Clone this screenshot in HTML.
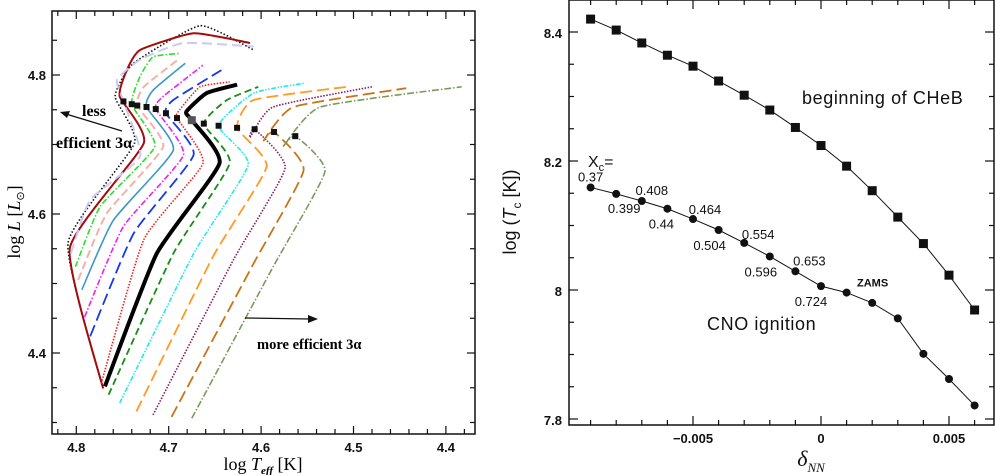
<!DOCTYPE html>
<html><head><meta charset="utf-8">
<style>
html,body{margin:0;padding:0;background:#fff;}
svg{display:block;}
.tl{font-family:"Liberation Sans",sans-serif;font-weight:bold;font-size:13px;fill:#111;}
.sv{font-family:"Liberation Serif",serif;}
</style></head>
<body>
<svg id="fig" width="995" height="475" viewBox="0 0 995 475" xmlns="http://www.w3.org/2000/svg">
  <g id="left"></g>
  <g id="right"></g>
</svg>
<script>
// ---------- LEFT PANEL DATA ----------
const trackNames = ["t1","t2","t3","t4","t5","t6","t7","t8","t9","t10","t11","t12","t13","t14","t15","t16"];
const trackLogT = [
 [4.771,4.809,4.737,4.758,4.738,4.666,4.608],
 [4.771,4.807,4.727,4.753,4.746,4.731,4.673,4.612],
 [4.806,4.785,4.731,4.749,4.756,4.731,4.684,4.608],
 [4.801,4.774,4.715,4.740,4.731,4.717,4.688],
 [4.798,4.767,4.706,4.734,4.727,4.690],
 [4.794,4.760,4.695,4.724,4.717,4.682],
 [4.791,4.749,4.684,4.714,4.706,4.663],
 [4.785,4.738,4.673,4.703,4.695,4.643],
 [4.773,4.727,4.663,4.691,4.688,4.666,4.634],
 [4.769,4.713,4.645,4.675,4.681,4.659,4.626],
 [4.765,4.695,4.634,4.662,4.637,4.603],
 [4.753,4.673,4.614,4.646,4.608,4.554],
 [4.735,4.652,4.594,4.626,4.608,4.507],
 [4.717,4.630,4.574,4.607,4.612,4.587,4.480],
 [4.697,4.608,4.554,4.586,4.597,4.565,4.443],
 [4.675,4.587,4.531,4.563,4.576,4.536,4.383]
];
const trackLogL = [
 [4.349,4.558,4.702,4.769,4.817,4.871,4.836],
 [4.349,4.551,4.702,4.769,4.805,4.836,4.860,4.846],
 [4.543,4.620,4.683,4.762,4.793,4.822,4.846,4.841],
 [4.524,4.611,4.697,4.758,4.798,4.826,4.831],
 [4.505,4.601,4.697,4.756,4.783,4.822],
 [4.491,4.591,4.692,4.754,4.778,4.817],
 [4.452,4.582,4.685,4.751,4.769,4.814],
 [4.424,4.572,4.685,4.745,4.764,4.807],
 [4.356,4.563,4.673,4.738,4.750,4.783,4.790],
 [4.352,4.543,4.673,4.735,4.747,4.774,4.786],
 [4.340,4.543,4.673,4.730,4.764,4.783],
 [4.328,4.543,4.671,4.727,4.774,4.788],
 [4.316,4.539,4.668,4.724,4.764,4.783],
 [4.311,4.534,4.666,4.722,4.710,4.754,4.783],
 [4.308,4.529,4.663,4.718,4.706,4.754,4.781],
 [4.306,4.524,4.661,4.712,4.697,4.754,4.783]
];
const trackSquareIdx = [-1,-1,3,3,3,3,3,3,3,3,3,3,3,3,3,3];
const trackColors = ["#111","#a40a0a","#c9c9f2","#2be02b","#f3b1a9","#3a98c8","#ee22ee","#1438ee","#ee2020","#000","#148f14","#22e8ee","#ff9a22","#841a62","#c8741a","#7a9a5a"];
const trackWidths = [1.6,2,2,1.6,2,1.6,1.6,1.8,1.6,4,1.8,1.6,1.8,1.6,1.8,1.6];
const trackDash = ["1.5 2","","10 5","6 2 1.5 2","8 4","","6 2 1.5 2","12 5","1.5 1.5","","7 4","5 1.5 1.5 1.5 1.5 1.5","12 5","1.5 1.5","12 5","7 2 1.5 2"];
const lxTicks = [4.8,4.7,4.6,4.5,4.4];
const lyTicks = [4.4,4.6,4.8];

// ---------- RIGHT PANEL DATA ----------
const delta = [-0.009,-0.008,-0.007,-0.006,-0.005,-0.004,-0.003,-0.002,-0.001,0,0.001,0.002,0.003,0.004,0.005,0.006];
const cheb = [8.420,8.403,8.383,8.364,8.347,8.324,8.302,8.279,8.252,8.224,8.192,8.154,8.113,8.072,8.023,7.969];
const cno = [8.159,8.149,8.138,8.126,8.110,8.093,8.073,8.052,8.029,8.006,7.996,7.980,7.956,7.901,7.862,7.821];
const xcLabels = ["0.37","0.399","0.408","0.44","0.464","0.504","0.554","0.596","0.653","0.724","ZAMS"];
const xcLabelIdx = [0,1,2,3,4,5,6,7,8,9,10];
const rxTicks = [-0.005,0,0.005];
const rxTickLabels = ["\u22120.005","0","0.005"];
const ryTicks = [7.8,8,8.2,8.4];
const ryTickLabels = ["7.8","8","8.2","8.4"];

const NS="http://www.w3.org/2000/svg";
function mk(tag,attrs,parent,text){const e=document.createElementNS(NS,tag);for(const k in attrs)e.setAttribute(k,attrs[k]);if(text!==undefined)e.textContent=text;parent.appendChild(e);return e;}

// ---------- LEFT PANEL ----------
const L=document.getElementById('left');
const LX0=52,LX1=475,LY0=11,LY1=434;
const lx=t=>76.3+(4.8-t)*924;
const ly=v=>75+(4.8-v)*695;
function crPath(pts){
  const k=12;
  let d="M"+pts[0][0].toFixed(1)+","+pts[0][1].toFixed(1);
  for(let i=0;i<pts.length-1;i++){
    const p0=pts[Math.max(0,i-1)],p1=pts[i],p2=pts[i+1],p3=pts[Math.min(pts.length-1,i+2)];
    const c1=[p1[0]+(p2[0]-p0[0])/k,p1[1]+(p2[1]-p0[1])/k];
    const c2=[p2[0]-(p3[0]-p1[0])/k,p2[1]-(p3[1]-p1[1])/k];
    d+=` C${c1[0].toFixed(1)},${c1[1].toFixed(1)} ${c2[0].toFixed(1)},${c2[1].toFixed(1)} ${p2[0].toFixed(1)},${p2[1].toFixed(1)}`;
  }
  return d;
}
const lclip=mk('clipPath',{id:'lclip'},L);mk('rect',{x:LX0,y:LY0,width:LX1-LX0,height:LY1-LY0},lclip);
const tg=mk('g',{'clip-path':'url(#lclip)'},L);


for(let i=0;i<trackNames.length;i++){
  const pts=trackLogT[i].map((t,j)=>[lx(t),ly(trackLogL[i][j])]);
  const p=mk('path',{d:crPath(pts),fill:'none',stroke:trackColors[i],'stroke-width':trackWidths[i],'stroke-dasharray':trackDash[i],'stroke-linejoin':'round'},tg);
  
  
}
for(let i=0;i<trackNames.length;i++){
  const k=trackSquareIdx[i]; if(k<0)continue;
  const s=i===9?8:6;
  const r=mk('rect',{x:lx(trackLogT[i][k])-s/2,y:ly(trackLogL[i][k])-s/2,width:s,height:s,fill:i===9?'#555':'#111'},tg);
  
  
}
const lf=mk('rect',{x:LX0,y:LY0,width:LX1-LX0,height:LY1-LY0,fill:'none',stroke:'#111','stroke-width':1.5},L);

for(let t=4.82;t>=4.36;t-=0.02){const x=lx(+t.toFixed(2));if(x<LX0||x>LX1)continue;const maj=Math.abs(t*10-Math.round(t*10))<1e-6;const len=maj?8:5;
  mk('line',{x1:x,y1:LY1,x2:x,y2:LY1-len,stroke:'#111','stroke-width':1.2},L);mk('line',{x1:x,y1:LY0,x2:x,y2:LY0+len,stroke:'#111','stroke-width':1.2},L);}
for(let v=4.3;v<=4.9;v+=0.05){const y=ly(+v.toFixed(2));if(y<LY0||y>LY1)continue;const maj=Math.abs(v*5-Math.round(v*5))<1e-6;const len=maj?8:5;
  mk('line',{x1:LX0,y1:y,x2:LX0+len,y2:y,stroke:'#111','stroke-width':1.2},L);mk('line',{x1:LX1,y1:y,x2:LX1-len,y2:y,stroke:'#111','stroke-width':1.2},L);}
lxTicks.forEach(t=>{const e=mk('text',{x:lx(t),y:452,'text-anchor':'middle',class:'tl'},L,t.toFixed(1));});
lyTicks.forEach(v=>{const e=mk('text',{x:46,y:ly(v)+5,'text-anchor':'end',class:'tl'},L,v.toFixed(1));});
</script>
<script>
(function(){
const L=document.getElementById('left');
L.insertAdjacentHTML('beforeend',`
<text x="263" y="470" text-anchor="middle" class="sv" font-size="18">log <tspan font-style="italic">T</tspan><tspan font-size="11" font-style="italic" font-weight="bold" dy="4">eff</tspan><tspan dy="-4"> [K]</tspan></text>
<text transform="translate(20,222) rotate(-90)" text-anchor="middle" class="sv" font-size="18">log <tspan font-style="italic">L</tspan> [<tspan font-style="italic">L</tspan><tspan font-size="11" dy="4">⊙</tspan><tspan dy="-4">]</tspan></text>
<text x="82" y="116" class="sv" font-size="16" font-weight="bold">less</text>
<text x="56" y="148" class="sv" font-size="16" font-weight="bold">efficient 3α</text>
<g><line x1="122" y1="131" x2="66" y2="114" stroke="#111" stroke-width="1.3"/><polygon points="60,112 70,111 67,118" fill="#111"/></g>
<g><line x1="245" y1="318" x2="310" y2="319" stroke="#111" stroke-width="1.3"/><polygon points="318,319 308,315 308,323" fill="#111"/></g>
<text x="257" y="349" class="sv" font-size="14.5" font-weight="bold">more efficient 3α</text>
`);
})();
</script>
<script>
(function(){
const R=document.getElementById('right');
const RX0=569,RX1=994,RY0=0,RY1=425;
const rx=d=>821+d*25600;
const ry=v=>290-(v-8)*645;
function mk(tag,attrs,parent,text){const e=document.createElementNS("http://www.w3.org/2000/svg",tag);for(const k in attrs)e.setAttribute(k,attrs[k]);if(text!==undefined)e.textContent=text;parent.appendChild(e);return e;}
const f=mk('rect',{x:RX0,y:RY0,width:RX1-RX0,height:RY1-RY0,fill:'none',stroke:'#111','stroke-width':1.5},R);

for(let i=-10;i<=7;i++){const d=i*0.001;const x=rx(d);if(x<=RX0||x>=RX1)continue;const len=(i%5===0)?9:5;
  mk('line',{x1:x,y1:RY1,x2:x,y2:RY1-len,stroke:'#111','stroke-width':1.2},R);mk('line',{x1:x,y1:RY0,x2:x,y2:RY0+len,stroke:'#111','stroke-width':1.2},R);}
for(let i=0;i<14;i++){const v=7.8+i*0.05;const y=ry(v);if(y<=RY0||y>=RY1)continue;const len=(i%4===0)?9:5;
  mk('line',{x1:RX0,y1:y,x2:RX0+len,y2:y,stroke:'#111','stroke-width':1.2},R);mk('line',{x1:RX1,y1:y,x2:RX1-len,y2:y,stroke:'#111','stroke-width':1.2},R);}
rxTicks.forEach((d,i)=>{const e=mk('text',{x:rx(d),y:443,'text-anchor':'middle',class:'tl','font-weight':'normal','font-size':'14'},R,rxTickLabels[i]);});
ryTicks.forEach((v,i)=>{const e=mk('text',{x:562,y:ry(v)+6,'text-anchor':'end',class:'tl','font-weight':'normal','font-size':'14'},R,ryTickLabels[i]);});
const l1=mk('polyline',{points:delta.map((d,i)=>rx(d)+','+ry(cheb[i])).join(' '),fill:'none',stroke:'#111','stroke-width':1},R);

const l2=mk('polyline',{points:delta.map((d,i)=>rx(d)+','+ry(cno[i])).join(' '),fill:'none',stroke:'#111','stroke-width':1},R);

delta.forEach((d,i)=>{const s=mk('rect',{x:rx(d)-4.5,y:ry(cheb[i])-4.5,width:9,height:9,fill:'#111'},R);
  
  const c=mk('circle',{cx:rx(d),cy:ry(cno[i]),r:4,fill:'#111'},R);
  });
const offX=[0,8,10,-6,12,-9,14,-9,14,-10,26];
const offY=[-10,15,-10,16,-9,16,-8,16,-10,16,-10];
xcLabels.forEach((t,k)=>{const i=xcLabelIdx[k];const e=mk('text',{x:rx(delta[i])+offX[k],y:ry(cno[i])+offY[k]+4,'text-anchor':'middle','font-family':'Liberation Sans, sans-serif','font-size':t==='ZAMS'?'11':'13',fill:'#111','font-weight':t==='ZAMS'?'bold':'normal'},R,t);
  });
R.insertAdjacentHTML('beforeend',`
<text x="588" y="167" font-family="Liberation Sans, sans-serif" font-size="16" fill="#111">X<tspan font-size="11" dy="4">c</tspan><tspan dy="-4">=</tspan></text>
<text x="802" y="104" font-family="Liberation Sans, sans-serif" font-size="18" fill="#111" letter-spacing="0.6">beginning of CHeB</text>
<text x="707" y="330" font-family="Liberation Sans, sans-serif" font-size="18" fill="#111" letter-spacing="0.6">CNO ignition</text>
<text x="811" y="466" text-anchor="middle" font-family="Liberation Serif, serif" font-size="22" font-style="italic" fill="#111">δ<tspan font-size="13" dy="6">NN</tspan></text>
<text transform="translate(516,212) rotate(-90)" text-anchor="middle" font-family="Liberation Sans, sans-serif" font-size="18" fill="#111">log (<tspan font-style="italic">T</tspan><tspan font-size="12" dy="5">c</tspan><tspan dy="-5"> [K])</tspan></text>
`);
})();
</script>
</body></html>
